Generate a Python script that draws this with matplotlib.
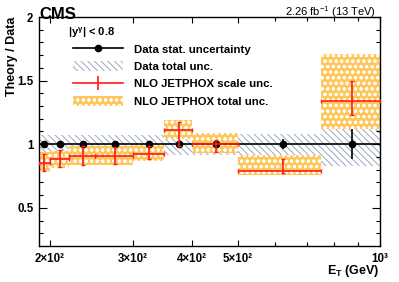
import matplotlib
matplotlib.use("Agg")
import matplotlib.pyplot as plt
import numpy as np
from matplotlib.lines import Line2D
from matplotlib.patches import Patch
from matplotlib.ticker import FixedLocator, FixedFormatter, NullFormatter

plt.rcParams["font.family"] = ["Liberation Sans", "DejaVu Sans"]
plt.rcParams["mathtext.default"] = "regular"
plt.rcParams["hatch.linewidth"] = 0.7

# E_T bins (GeV)
bin_edges = np.array([190, 200, 220, 250, 300, 350, 400, 500, 750, 1000])
bin_centers = np.array([195, 210, 235, 275, 325, 375, 450, 625, 875])

# data / data with stat. uncertainty
data_ratio = np.ones(9)
stat_down = np.array([0.005, 0.005, 0.006, 0.007, 0.009, 0.012, 0.02, 0.034, 0.113])
stat_up = np.array([0.005, 0.005, 0.006, 0.007, 0.009, 0.012, 0.02, 0.04, 0.123])

# data total uncertainty band
data_tot_lo = np.array([0.925, 0.925, 0.925, 0.925, 0.915, 0.915, 0.915, 0.915, 0.83])
data_tot_hi = np.array([1.076, 1.076, 1.076, 1.076, 1.075, 1.075, 1.084, 1.084, 1.163])

# NLO JETPHOX / data
theory = np.array([0.853, 0.882, 0.906, 0.908, 0.925, 1.11, 1.0, 0.788, 1.338])
scale_lo = np.array([0.79, 0.822, 0.835, 0.843, 0.88, 0.985, 0.94, 0.77, 1.233])
scale_hi = np.array([0.921, 0.953, 0.987, 0.979, 0.984, 1.175, 1.037, 0.882, 1.497])
theo_tot_lo = np.array([0.78, 0.81, 0.84, 0.84, 0.87, 1.04, 0.93, 0.756, 1.123])
theo_tot_hi = np.array([0.94, 0.95, 0.985, 0.985, 1.0, 1.19, 1.089, 0.914, 1.712])

x_ticks = [200, 300, 400, 500, 1000]
x_ticklabels = ["2×10²", "3×10²", "4×10²", "5×10²", "10³"]
x_minor = [600, 700, 800, 900]
y_ticks = [0.5, 1.0, 1.5, 2.0]
y_ticklabels = ["0.5", "1", "1.5", "2"]

GREY = "#97a9bf"
ORANGE = "#ffc65a"
RED = "#ff1a1a"
GREY_HATCH = "\\\\\\\\\\"
ORANGE_HATCH = "ooo"

fig = plt.figure(figsize=(3.99, 2.82), dpi=100)
ax = fig.add_axes([0.0977, 0.1277, 0.8543, 0.812])
ax.set_xscale("log")

left = bin_edges[:-1]
widths = np.diff(bin_edges)

# data total uncertainty (hatched)
ax.bar(left, data_tot_hi - data_tot_lo, bottom=data_tot_lo, width=widths,
       align="edge", facecolor="none", edgecolor=GREY, hatch=GREY_HATCH,
       linewidth=0, zorder=1)

# theory total uncertainty (orange pattern)
ax.bar(left, theo_tot_hi - theo_tot_lo, bottom=theo_tot_lo, width=widths,
       align="edge", facecolor=ORANGE, edgecolor="white", hatch=ORANGE_HATCH,
       linewidth=0, zorder=2)

xerr = [bin_centers - left, bin_edges[1:] - bin_centers]
ax.errorbar(bin_centers, data_ratio, xerr=xerr, yerr=[stat_down, stat_up],
            fmt="o", color="black", ms=4.5, lw=1.2, capsize=0, zorder=3)
ax.errorbar(bin_centers, theory, xerr=xerr,
            yerr=[theory - scale_lo, scale_hi - theory],
            fmt="none", ecolor=RED, lw=1.2, capsize=1.6, capthick=1.0, zorder=4)

ax.set_xlim(190, 1000)
ax.set_ylim(0.2, 2.0)

ax.xaxis.set_major_locator(FixedLocator(x_ticks))
ax.xaxis.set_major_formatter(FixedFormatter(x_ticklabels))
ax.xaxis.set_minor_locator(FixedLocator(x_minor))
ax.xaxis.set_minor_formatter(NullFormatter())
ax.yaxis.set_major_locator(FixedLocator(y_ticks))
ax.yaxis.set_major_formatter(FixedFormatter(y_ticklabels))
ax.yaxis.set_minor_locator(FixedLocator(np.arange(0.3, 2.0, 0.1)))

ax.tick_params(which="both", direction="in", top=True, right=True, width=0.8,
               labelsize=8.3, pad=4)
ax.tick_params(axis="y", which="major", length=5.5)
ax.tick_params(axis="y", which="minor", length=3)
ax.tick_params(axis="x", which="major", length=4.5, pad=5)
ax.tick_params(axis="x", which="minor", length=3)
for lab in ax.get_xticklabels() + ax.get_yticklabels():
    lab.set_fontweight("bold")
for s in ax.spines.values():
    s.set_linewidth(1.0)

fig.text(0.098, 0.975, "CMS", fontsize=12, fontweight="bold", ha="left", va="top")
fig.text(0.943, 0.985, "2.26 fb$^{-1}$ (13 TeV)", fontsize=8, ha="right", va="top")
fig.text(0.03, 0.94, "Theory / Data", fontsize=9, fontweight="bold",
         rotation=90, ha="center", va="top")
fig.text(0.95, 0.01, "E$_T$ (GeV)", fontsize=9, fontweight="bold",
         ha="right", va="bottom")

ax.text(0.085, 0.932, "|y$^{\\gamma}$| < 0.8", transform=ax.transAxes,
        fontsize=8, fontweight="bold", ha="left", va="center")

handles = [
    Line2D([], [], color="black", lw=1.2, marker="o", ms=4.5),
    Patch(facecolor="none", edgecolor=GREY, hatch=GREY_HATCH, linewidth=0),
    Line2D([], [], color=RED, lw=1.2, marker="|", ms=10, mew=1.2),
    Patch(facecolor=ORANGE, edgecolor="white", hatch=ORANGE_HATCH, linewidth=0),
]
labels = ["Data stat. uncertainty", "Data total unc.",
          "NLO JETPHOX scale unc.", "NLO JETPHOX total unc."]
ax.legend(handles, labels, loc="upper left", bbox_to_anchor=(0.1, 0.883),
          frameon=False, borderpad=0, borderaxespad=0, handlelength=4.4,
          handleheight=1.0, handletextpad=0.95, labelspacing=0.55,
          prop={"size": 8.2, "weight": "bold"})

fig.savefig("out.png", dpi=100)
